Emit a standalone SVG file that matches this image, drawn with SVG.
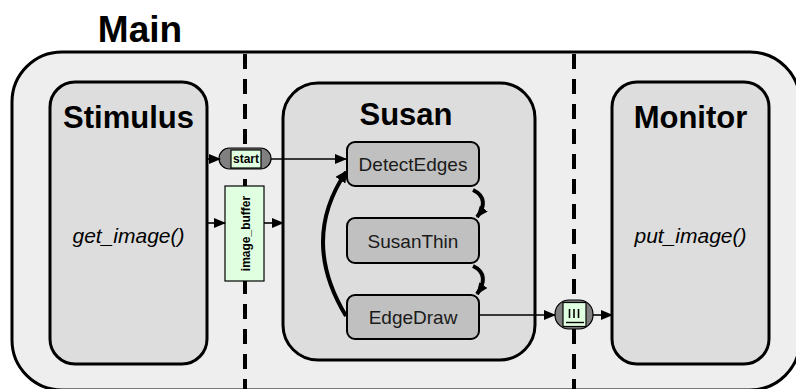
<svg xmlns="http://www.w3.org/2000/svg" width="796" height="389" viewBox="0 0 796 389">
<style>
.title{font-family:"Liberation Sans",Arial,sans-serif;font-weight:bold;fill:#000}
.box{fill:#dddddd;stroke:#000;stroke-width:3}
.node rect{fill:#c0c0c0;stroke:#000;stroke-width:2}
.node text{font-family:"Liberation Sans",Arial,sans-serif;font-size:19px;text-anchor:middle;fill:#1a1a1a}
.ital{font-family:"Liberation Sans",Arial,sans-serif;font-style:italic;font-size:21px;text-anchor:middle}
.dash{stroke:#000;stroke-width:4;stroke-dasharray:15 10;fill:none}
.thin{stroke:#000;stroke-width:1.6;fill:none}
.thick{stroke:#000;stroke-width:4;fill:none}
.green{fill:#e0ffe0;stroke:#000;stroke-width:1.2}
.lbl{font-family:"Liberation Sans",Arial,sans-serif;font-weight:bold;font-size:12px;text-anchor:middle}
</style>
<defs>
<marker id="ah" markerUnits="userSpaceOnUse" markerWidth="12" markerHeight="10" refX="11" refY="5" orient="auto">
<path d="M0,0 L12,5 L0,10 Z" fill="#000"/>
</marker>
<marker id="ahb" markerUnits="userSpaceOnUse" markerWidth="12" markerHeight="12" refX="10" refY="6" orient="auto">
<path d="M0,0 L12,6 L0,12 Z" fill="#000"/>
</marker>
</defs>
<text class="title" x="140" y="42" font-size="37" text-anchor="middle">Main</text>
<g id="main">
<rect x="12" y="52" width="788" height="338" rx="50" fill="#eeeeee" stroke="#000" stroke-width="3"/>
</g>
<g id="dividers">
<line class="dash" x1="245" y1="54" x2="245" y2="389"/>
<line class="dash" x1="574" y1="54" x2="574" y2="389"/>
</g>
<g id="stimulus">
<rect class="box" x="50" y="82" width="157" height="282" rx="25"/>
<text class="title" x="128.5" y="128" font-size="31" text-anchor="middle">Stimulus</text>
<text class="ital" x="128.5" y="243">get_image()</text>
</g>
<g id="susan">
<rect class="box" x="283" y="83" width="252" height="277" rx="35"/>
<text class="title" x="406" y="125" font-size="31" text-anchor="middle">Susan</text>
</g>
<g id="monitor">
<rect class="box" x="612" y="82" width="157" height="282" rx="25"/>
<text class="title" x="690.5" y="128" font-size="31" text-anchor="middle">Monitor</text>
<text class="ital" x="690.5" y="243">put_image()</text>
</g>
<g id="DetectEdges" class="node">
<rect x="347" y="142" width="132" height="44" rx="8"/>
<text x="413" y="170.5">DetectEdges</text>
</g>
<g id="SusanThin" class="node">
<rect x="347" y="218" width="132" height="45" rx="8"/>
<text x="413" y="247.5">SusanThin</text>
</g>
<g id="EdgeDraw" class="node">
<rect x="347" y="295" width="132" height="44" rx="8"/>
<text x="413" y="323.5">EdgeDraw</text>
</g>
<g id="start">
<rect x="219" y="148" width="52" height="21" rx="10.5" fill="#808080" stroke="#000" stroke-width="1.2"/>
<rect class="green" x="231" y="150" width="30" height="18"/>
<text class="lbl" x="246" y="163">start</text>
</g>
<g id="image_buffer">
<rect class="green" x="225" y="186" width="39" height="95"/>
<text class="lbl" font-size="13" transform="translate(250,233.5) rotate(-90)" x="0" y="0">image_buffer</text>
</g>
<g id="queue">
<rect x="555" y="300" width="38" height="29" rx="14" fill="#808080" stroke="#000" stroke-width="1.2"/>
<rect class="green" x="563" y="302.5" width="23" height="24"/>
<line x1="569.5" y1="309" x2="569.5" y2="318" stroke="#000" stroke-width="1.6"/>
<line x1="574" y1="309" x2="574" y2="318" stroke="#000" stroke-width="1.6"/>
<line x1="578.5" y1="309" x2="578.5" y2="318" stroke="#000" stroke-width="1.6"/>
<line x1="566" y1="322.5" x2="584" y2="322.5" stroke="#000" stroke-width="1.4"/>
</g>
<g id="connectors">
<line class="thin" x1="207" y1="159" x2="220" y2="159" marker-end="url(#ah)"/>
<line class="thin" x1="271" y1="159" x2="346" y2="159" marker-end="url(#ah)"/>
<line class="thin" x1="207" y1="223" x2="225" y2="223" marker-end="url(#ah)"/>
<line class="thin" x1="264" y1="223" x2="283" y2="223" marker-end="url(#ah)"/>
<line class="thin" x1="479" y1="315" x2="555" y2="315" marker-end="url(#ah)"/>
<line class="thin" x1="593" y1="315" x2="612" y2="315" marker-end="url(#ah)"/>
<path class="thick" d="M346 316 Q300 240 346 172" marker-end="url(#ahb)"/>
<path class="thick" d="M473 190 C486 196 485 207 477 217" stroke-width="3.5" marker-end="url(#ah)"/>
<path class="thick" d="M473 266 C486 272 485 283 477 294" stroke-width="3.5" marker-end="url(#ah)"/>
</g>
</svg>
